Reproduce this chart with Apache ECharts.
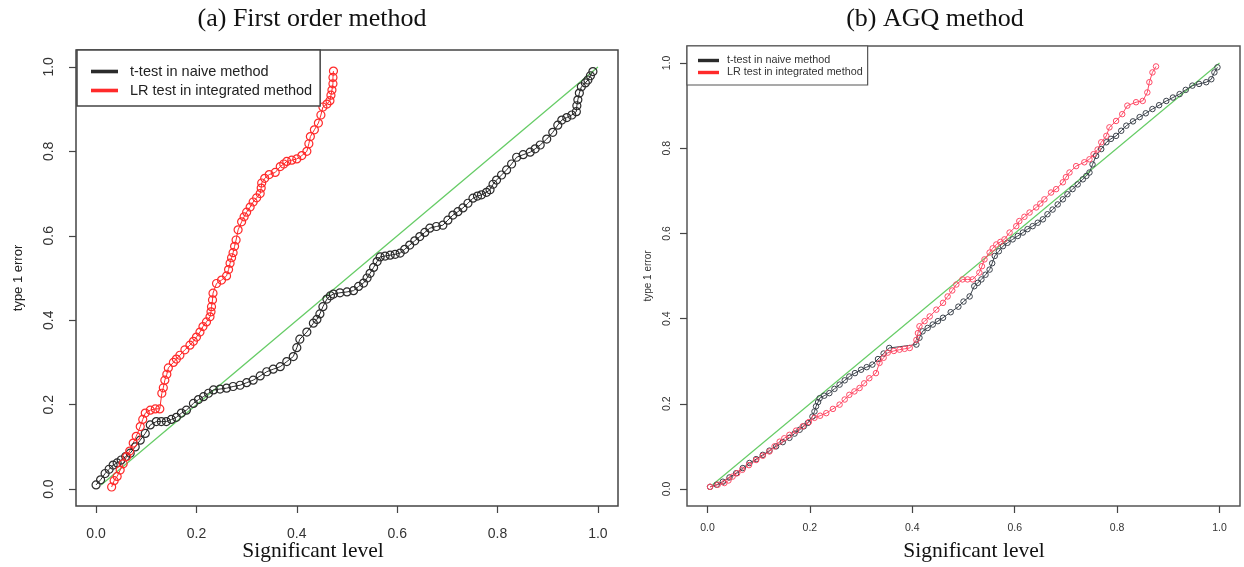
<!DOCTYPE html>
<html>
<head>
<meta charset="utf-8">
<script src="https://cdn.jsdelivr.net/npm/echarts@6/dist/echarts.min.js"></script>
<style>
html,body{margin:0;padding:0;background:#fff;}
#c{width:1244px;height:567px;}
</style>
</head>
<body>
<div id="c"></div>
<script>
// ---------- data ----------
const panelTitles = ['(a) First order method', '(b) AGQ method'];
const seriesNames = ['t-test in naive method', 'LR test in integrated method'];
const xAxisTitle = 'Significant level';
const yAxisTitle = 'type 1 error';
const tickValues = [0, 0.2, 0.4, 0.6, 0.8, 1.0];

// (a) First order method: t-test in naive method
const naiveA = [
 [0.0,0.01],[0.009,0.022],[0.018,0.037],[0.026,0.047],[0.034,0.057],[0.042,0.062],[0.05,0.069],[0.059,0.077],
 [0.068,0.085],[0.078,0.10],[0.088,0.116],[0.098,0.132],[0.108,0.152],[0.12,0.16],[0.13,0.16],[0.14,0.16],
 [0.15,0.165],[0.16,0.17],[0.17,0.18],[0.18,0.187],[0.194,0.203],[0.204,0.212],[0.214,0.219],[0.224,0.227],
 [0.234,0.235],[0.247,0.237],[0.26,0.239],[0.273,0.243],[0.287,0.246],[0.30,0.252],[0.313,0.258],[0.327,0.268],
 [0.34,0.278],[0.353,0.284],[0.367,0.29],[0.38,0.302],[0.393,0.314],[0.40,0.335],[0.406,0.355],[0.42,0.372],
 [0.433,0.393],[0.44,0.402],[0.446,0.415],[0.452,0.432],[0.46,0.45],[0.467,0.458],[0.473,0.462],[0.486,0.465],[0.50,0.467],[0.513,0.47],
 [0.523,0.48],[0.533,0.488],[0.54,0.50],[0.546,0.511],[0.553,0.525],[0.56,0.539],[0.566,0.55],[0.576,0.552],
 [0.586,0.554],[0.596,0.556],[0.606,0.559],[0.615,0.568],[0.625,0.578],[0.635,0.588],[0.645,0.598],[0.655,0.608],
 [0.665,0.618],[0.678,0.622],[0.691,0.625],[0.701,0.637],[0.711,0.649],[0.721,0.657],[0.731,0.666],[0.741,0.677],
 [0.751,0.689],[0.76,0.694],[0.768,0.697],[0.778,0.703],[0.785,0.709],[0.791,0.722],[0.798,0.732],[0.808,0.744],
 [0.818,0.756],[0.828,0.77],[0.838,0.786],[0.851,0.792],[0.865,0.798],[0.875,0.806],[0.885,0.815],[0.898,0.829],
 [0.91,0.845],[0.92,0.862],[0.928,0.874],[0.938,0.88],[0.948,0.886],[0.957,0.894],[0.958,0.908],[0.96,0.922],
 [0.963,0.938],[0.967,0.953],[0.975,0.962],[0.98,0.969],[0.985,0.979],[0.99,0.989]
];
// (a) First order method: LR test in integrated method
const integratedA = [
 [0.031,0.005],[0.036,0.02],[0.042,0.03],[0.048,0.045],[0.054,0.06],[0.061,0.077],[0.067,0.09],[0.074,0.109],
 [0.08,0.125],[0.088,0.148],[0.093,0.165],[0.098,0.18],[0.108,0.187],[0.118,0.19],[0.127,0.19],[0.131,0.227],
 [0.134,0.24],[0.137,0.258],[0.141,0.272],[0.144,0.287],[0.154,0.30],[0.16,0.308],[0.167,0.317],[0.177,0.33],
 [0.187,0.341],[0.194,0.35],[0.20,0.36],[0.207,0.372],[0.213,0.385],[0.22,0.396],[0.227,0.408],[0.229,0.42],
 [0.23,0.432],[0.232,0.448],[0.233,0.464],[0.24,0.487],[0.25,0.495],[0.26,0.505],[0.264,0.52],[0.267,0.535],
 [0.27,0.548],[0.273,0.56],[0.276,0.575],[0.279,0.59],[0.283,0.614],[0.29,0.633],[0.295,0.645],[0.30,0.656],
 [0.307,0.668],[0.313,0.68],[0.32,0.69],[0.327,0.70],[0.329,0.713],[0.33,0.725],[0.336,0.736],[0.345,0.745],
 [0.357,0.75],[0.367,0.764],[0.374,0.77],[0.38,0.776],[0.39,0.779],[0.40,0.782],[0.41,0.79],[0.42,0.80],
 [0.424,0.818],[0.427,0.835],[0.435,0.851],[0.443,0.867],[0.448,0.886],[0.452,0.905],[0.46,0.912],[0.466,0.92],
 [0.468,0.933],[0.470,0.945],[0.472,0.96],[0.472,0.975],[0.473,0.99]
];
// (b) AGQ method: t-test in naive method
const naiveB = [
 [0.005,0.005],[0.018,0.01],[0.03,0.017],[0.043,0.027],[0.056,0.037],[0.069,0.049],[0.082,0.061],[0.095,0.07],
 [0.108,0.08],[0.121,0.09],[0.134,0.1],[0.147,0.11],[0.16,0.12],[0.17,0.13],[0.18,0.139],[0.188,0.147],
 [0.196,0.155],[0.205,0.17],[0.209,0.182],[0.212,0.194],[0.216,0.204],[0.219,0.213],[0.228,0.219],[0.238,0.225],
 [0.248,0.235],[0.258,0.245],[0.268,0.255],[0.277,0.264],[0.288,0.272],[0.3,0.28],[0.311,0.286],[0.322,0.292],
 [0.333,0.305],[0.344,0.318],[0.355,0.331],[0.408,0.339],[0.414,0.355],[0.42,0.37],[0.43,0.378],[0.44,0.386],
 [0.45,0.394],[0.46,0.402],[0.475,0.415],[0.49,0.428],[0.5,0.44],[0.512,0.452],[0.521,0.476],[0.528,0.484],
 [0.535,0.492],[0.543,0.503],[0.551,0.515],[0.556,0.53],[0.561,0.547],[0.569,0.558],[0.577,0.57],[0.586,0.578],
 [0.596,0.586],[0.606,0.594],[0.616,0.602],[0.625,0.61],[0.635,0.617],[0.645,0.625],[0.655,0.633],[0.664,0.645],
 [0.674,0.656],[0.684,0.668],[0.694,0.68],[0.703,0.692],[0.713,0.704],[0.723,0.715],[0.733,0.727],[0.74,0.735],
 [0.746,0.743],[0.752,0.762],[0.759,0.782],[0.769,0.798],[0.779,0.814],[0.788,0.822],[0.798,0.829],[0.808,0.841],
 [0.818,0.853],[0.831,0.863],[0.844,0.873],[0.856,0.882],[0.869,0.892],[0.882,0.901],[0.896,0.911],[0.909,0.919],
 [0.922,0.927],[0.934,0.937],[0.947,0.947],[0.96,0.951],[0.974,0.955],[0.984,0.962],[0.99,0.978],[0.996,0.99]
];
// (b) AGQ method: LR test in integrated method
const integratedB = [
 [0.005,0.005],[0.02,0.01],[0.033,0.014],[0.041,0.02],[0.049,0.029],[0.058,0.037],[0.068,0.045],[0.081,0.056],
 [0.095,0.068],[0.108,0.078],[0.121,0.088],[0.131,0.1],[0.141,0.111],[0.15,0.119],[0.16,0.127],[0.173,0.137],
 [0.186,0.147],[0.198,0.157],[0.209,0.167],[0.22,0.172],[0.232,0.178],[0.245,0.188],[0.258,0.198],[0.268,0.21],
 [0.277,0.221],[0.287,0.229],[0.297,0.237],[0.306,0.248],[0.316,0.26],[0.329,0.272],[0.336,0.296],[0.344,0.308],
 [0.352,0.32],[0.364,0.324],[0.375,0.327],[0.385,0.329],[0.395,0.331],[0.408,0.35],[0.411,0.366],[0.414,0.382],
 [0.424,0.394],[0.434,0.405],[0.447,0.421],[0.46,0.437],[0.469,0.452],[0.478,0.466],[0.486,0.48],[0.498,0.492],
 [0.508,0.492],[0.518,0.492],[0.531,0.508],[0.536,0.523],[0.541,0.539],[0.551,0.555],[0.557,0.565],[0.564,0.574],
 [0.572,0.58],[0.58,0.586],[0.59,0.602],[0.603,0.617],[0.609,0.629],[0.619,0.639],[0.629,0.649],[0.642,0.661],
 [0.65,0.67],[0.658,0.68],[0.671,0.696],[0.681,0.704],[0.694,0.72],[0.7,0.732],[0.707,0.743],[0.72,0.758],
 [0.736,0.767],[0.746,0.774],[0.754,0.786],[0.762,0.797],[0.769,0.814],[0.779,0.829],[0.785,0.849],[0.798,0.864],
 [0.81,0.88],[0.82,0.9],[0.837,0.908],[0.85,0.911],[0.859,0.931],[0.863,0.955],[0.869,0.978],[0.876,0.992]
];
// reference diagonal y = x
const diagA = [[0.01,0.01],[1.0,1.0]];
const diagB = [[0.01,0.01],[1.0,1.0]];

// ---------- styling ----------
const SANS = '"Liberation Sans", Arial, sans-serif';
const SERIF = '"Liberation Serif", "Times New Roman", serif';
const colA = {naive:'#2b2b2b', integ:'#ff2a2a'};
const colB = {naive:'#3c434c', integ:'#ff4a66'};
const green = '#66cc66';

function mkAxis(gi, isX, fs, margin) {
  const lab = {show:true, customValues:tickValues, formatter:v=>v.toFixed(1), fontFamily:SANS, fontSize:fs, color:'#333', margin:margin};
  if (!isX) { lab.rotate = 90; lab.align = 'center'; lab.verticalAlign = 'bottom'; }
  return {
    type:'value', gridIndex:gi, min:-0.04, max:1.04,
    axisLine:{show:false, onZero:false},
    splitLine:{show:false},
    axisTick:{show:true, inside:false, length:7, customValues:tickValues, lineStyle:{color:'#444', width:1.2}},
    axisLabel:lab
  };
}
function lineSeries(name, data, gi, color, size, bw) {
  return {
    name, type:'line', xAxisIndex:gi, yAxisIndex:gi, data,
    symbol:'circle', symbolSize:size, showSymbol:true,
    itemStyle:{color:'rgba(0,0,0,0)', borderColor:color, borderWidth:bw},
    lineStyle:{color:color, width:1},
    emphasis:{disabled:true}, z:3
  };
}

const chart = echarts.init(document.getElementById('c'), null, {renderer:'canvas'});
chart.setOption({
  animation:false,
  backgroundColor:'#fff',
  grid:[
    {left:76, top:50, width:542, height:456, show:true, borderColor:'#444', borderWidth:1.5, backgroundColor:'transparent'},
    {left:687, top:46, width:553, height:460, show:true, borderColor:'#555', borderWidth:1.5, backgroundColor:'transparent'}
  ],
  xAxis:[mkAxis(0,true,14,21), mkAxis(1,true,10.5,17)],
  yAxis:[mkAxis(0,false,14,20), mkAxis(1,false,10.5,14)],
  legend:[
    {left:77, top:50, orient:'vertical', itemWidth:25, itemHeight:1.6, itemGap:4,
     padding:[14,8,8,14], borderColor:'#444', borderWidth:1.5, backgroundColor:'#fff',
     textStyle:{fontFamily:SANS, fontSize:14.5, color:'#222', padding:[0,0,0,8]}, selectedMode:false,
     data:[{name:seriesNames[0], icon:'rect', itemStyle:{color:'#555'}},
           {name:seriesNames[1], icon:'rect', itemStyle:{color:'#ff4040'}}]},
    {left:687, top:46, orient:'vertical', itemWidth:19, itemHeight:1.4, itemGap:1,
     padding:[9,5,7,11], borderColor:'#555', borderWidth:1.2, backgroundColor:'#fff',
     textStyle:{fontFamily:SANS, fontSize:10.8, color:'#333', padding:[0,0,0,4]}, selectedMode:false,
     data:[{name:seriesNames[0], icon:'rect', itemStyle:{color:'#5a6068'}},
           {name:seriesNames[1], icon:'rect', itemStyle:{color:'#ff7088'}}]}
  ],
  graphic:[
    {type:'text', x:312, y:19, style:{text:panelTitles[0], font:'26px '+SERIF, fill:'#111', textAlign:'center', textVerticalAlign:'middle'}},
    {type:'text', x:935, y:19, style:{text:panelTitles[1], font:'26px '+SERIF, fill:'#111', textAlign:'center', textVerticalAlign:'middle'}},
    {type:'text', x:313, y:551, style:{text:xAxisTitle, font:'21.5px '+SERIF, fill:'#111', textAlign:'center', textVerticalAlign:'middle'}},
    {type:'text', x:974, y:551, style:{text:xAxisTitle, font:'21.5px '+SERIF, fill:'#111', textAlign:'center', textVerticalAlign:'middle'}},
    {type:'text', x:18, y:278, rotation:Math.PI/2, style:{text:yAxisTitle, font:'13px '+SANS, fill:'#222', textAlign:'center', textVerticalAlign:'middle'}},
    {type:'text', x:648, y:276, rotation:Math.PI/2, style:{text:yAxisTitle, font:'10px '+SANS, fill:'#333', textAlign:'center', textVerticalAlign:'middle'}}
  ],
  series:[
    {type:'line', xAxisIndex:0, yAxisIndex:0, data:diagA, symbol:'none', lineStyle:{color:green, width:1.3}, z:2, silent:true},
    lineSeries(seriesNames[0], naiveA, 0, colA.naive, 8, 1.2),
    lineSeries(seriesNames[1], integratedA, 0, colA.integ, 8, 1.2),
    {type:'line', xAxisIndex:1, yAxisIndex:1, data:diagB, symbol:'none', lineStyle:{color:green, width:1.2}, z:2, silent:true},
    lineSeries(seriesNames[0], naiveB, 1, colB.naive, 5.5, 1),
    lineSeries(seriesNames[1], integratedB, 1, colB.integ, 5.5, 1)
  ]
});
</script>
</body>
</html>
